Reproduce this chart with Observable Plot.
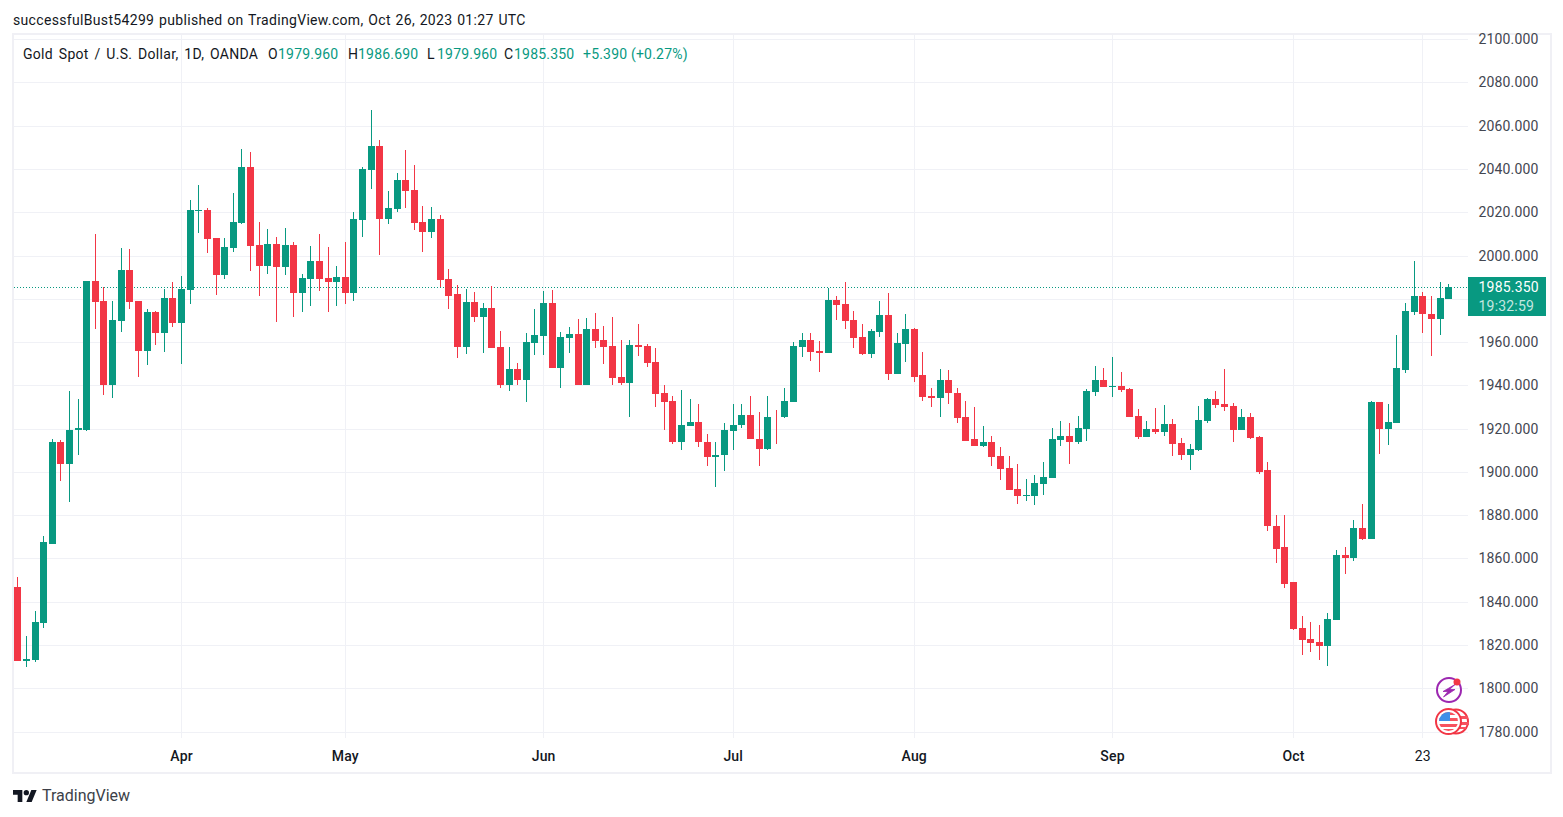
<!DOCTYPE html>
<html><head><meta charset="utf-8">
<script src="https://cdn.jsdelivr.net/npm/d3@7"></script>
<script src="https://cdn.jsdelivr.net/npm/@observablehq/plot@0.6"></script>
<style>
html,body{margin:0;padding:0;background:#fff;width:1563px;height:817px;overflow:hidden}
body{position:relative;font-family:Roboto,sans-serif;font-size:14px;color:#131722}
#chart svg{display:block;position:absolute;left:0;top:0;background:transparent}
.abs{position:absolute;white-space:nowrap;line-height:18px}
#frame{position:absolute;left:12px;top:33px;width:1536px;height:737px;border:2px solid #f0f0f5;pointer-events:none}
#price{position:absolute;left:1468px;top:277px;width:78px;height:39px;background:#089981;color:#fff;font-size:14px}
#price div{position:absolute;left:10.5px;line-height:18px;letter-spacing:.2px}
</style></head><body>
<div id="frame"></div>
<div id="chart"></div>
<div class="abs" style="left:13px;top:10.5px;letter-spacing:.33px;word-spacing:.9px" id="pub"></div>
<div id="legend"></div>
<div id="price"><div id="p1" style="top:1px"></div><div id="p2" style="top:20px;color:#c4e7e0"></div></div>
<svg class="abs" style="left:1434px;top:675px" width="36" height="62" viewBox="0 0 36 62">
  <defs><clipPath id="coin"><circle cx="14.500" cy="46.500" r="9.500"/></clipPath></defs>
  <circle cx="15" cy="15" r="12" fill="none" stroke="#9c27b0" stroke-width="2"/>
  <path d="M21 9.500 L9 16.500 H14 L9.500 22 L21 14.500 H15.500 Z" fill="#9c27b0" stroke="#9c27b0" stroke-width=".8" stroke-linejoin="round"/>
  <circle cx="23" cy="7" r="3.500" fill="#f23645"/>
  <circle cx="22" cy="46.500" r="12" fill="#fff" stroke="#f23645" stroke-width="2"/>
  <path d="M26 41h8v3h-8zM27 47h8v3h-8zM25 52h7v2h-7z" fill="#f7525f"/>
  <circle cx="14.500" cy="46.500" r="12.500" fill="#fff" stroke="#f23645" stroke-width="2"/>
  <g clip-path="url(#coin)">
    <rect x="4" y="36" width="22" height="21" fill="#fff"/>
    <path d="M4 37h22v3H4zM4 43h22v3H4zM4 49h22v3H4zM4 54h22v3H4z" fill="#f7525f"/>
    <rect x="4" y="36" width="12" height="10" fill="#3f8fe8"/>
  </g>
</svg>
<svg class="abs" style="left:13px;top:789px" width="24" height="14" viewBox="0 4 36 18">
  <path fill="#131722" d="M14 22H7V11H0V4h14v18ZM28 22h-8l7.500-18h8L28 22Z"/><circle fill="#131722" cx="20" cy="8" r="4"/>
</svg>
<div class="abs" style="left:42px;top:787px;font-size:16px;color:#3c3f48">TradingView</div>
<script>
const opens=[1847,1812.7,1813.2,1830.3,1866.9,1913.7,1903.5,1919.2,1919.2,1988.3,
1979,1940.2,1969.8,1993.4,1979,1955.9,1974,1964.2,1980.4,1968.9,
1984.3,2020.4,2020.9,2007.9,1990.8,2003.3,2014.9,2040.8,2004.7,1995,
2005.2,1994.5,2004.7,1982.5,1989,1997.3,1989.4,1987.6,1989.9,1982.5,
2016.3,2039.4,2050.5,2016.7,2021.4,2034.8,2030.2,2015.3,2010.7,2016.7,
1989,1982.1,1957.6,1978.4,1971.5,1975.6,1957.6,1940.4,1947.4,1942.7,
1959.4,1962.7,1977.9,1947.8,1961.7,1963.6,1940,1965.9,1960.8,1958,
1943.7,1940.9,1958.5,1958,1950.6,1936.3,1932.6,1913.6,1921,1923.3,
1914,1907.1,1907.6,1919.1,1921.5,1926.1,1915.4,1910.8,1925.6,1925.2,
1932.1,1957.6,1960.8,1955.7,1954.8,1979.3,1977.5,1970.1,1962.2,1954.3,
1964.5,1972.4,1945.1,1959,1965.9,1944.6,1934.9,1934,1942.7,1936.7,
1925.2,1915,1912.2,1914,1907.5,1901.9,1892.2,1889,1889,1894.5,
1897.3,1914.9,1916.7,1914,1920,1937.1,1942.7,1939.4,1939.9,1938.5,
1926,1916.3,1920,1918.6,1922.3,1913.5,1907.9,1910.2,1923.7,1933.9,
1931.5,1930.6,1919.5,1925.5,1916.3,1900.7,1875.2,1865.1,1848.9,1828,
1822.9,1821.5,1819.7,1831.7,1861.4,1860,1874.3,1868.8,1932.5,1920,
1922.8,1947.3,1973.7,1981.1,1973.2,1970.9,1979.96];
const closes=[1812.7,1813.7,1830.8,1867.4,1913.7,1903.5,1919.2,1920.3,1988.3,1978.6,
1940.2,1970.2,1993.4,1978.6,1955.9,1974,1964.2,1980.4,1968.9,1984.6,
2020.9,2020.9,2007.5,1990.8,2003.8,2015.3,2040.8,2004.2,1995,2005.2,
1994.5,2004.7,1982.5,1989.4,1997.3,1989,1987.6,1989.9,1982.5,2016.7,
2039.9,2050.5,2016.7,2021.8,2034.8,2029.7,2014.9,2010.7,2016.7,1988.5,
1981.5,1957.6,1978.4,1971.5,1975.6,1957.1,1940.4,1947.4,1942.7,1959.9,
1963.1,1977.9,1947.8,1962.2,1963.6,1940,1965.9,1960.3,1957.6,1943.2,
1940.9,1958.5,1957.6,1950.2,1935.8,1932.1,1913.6,1921.5,1923.3,1913.6,
1907.1,1908,1919.6,1921.9,1926.1,1915,1910.8,1925.6,1925.2,1932.6,
1958,1960.8,1955.2,1954.8,1979.3,1977,1969.6,1961.7,1954.3,1965,
1972.4,1945.1,1959.4,1965.9,1944.1,1934.4,1934,1942.7,1936.3,1924.7,
1914.5,1912.2,1914,1907.1,1901.5,1891.7,1889,1889.4,1895,1897.7,
1915.3,1916.7,1914,1920.4,1937.6,1942.7,1939.4,1939.9,1938,1925.5,
1916.3,1920,1918.6,1922.3,1913,1907.9,1910.7,1924.1,1933.9,1931.1,
1930.2,1919.5,1925.5,1915.8,1900.1,1874.8,1864.6,1848.4,1827.6,1822.5,
1821.1,1819.7,1832.2,1861.4,1860,1874.3,1868.8,1932.5,1920,1923.2,
1947.8,1974.2,1981.1,1972.8,1970.9,1980.2,1985.35];
const highs=[1851.6,1824.3,1835.9,1870.6,1915,1914.6,1937.4,1933.7,1988.3,2010.1,
1985.4,1979,2003.6,2003.1,1979,1975.3,1974.4,1984.6,1987.8,1990.6,
2025.5,2032.5,2021.8,2007.9,2007.9,2028.8,2049.1,2047.7,2015.3,2012.1,
2008.4,2012.6,2006.1,1991.3,2004.2,2009.8,2003.8,1995.4,2006.5,2020,
2040.8,2067.2,2053.3,2029.7,2038,2048.7,2041.7,2022.7,2022.3,2018.6,
1993.6,1986.3,1984.4,1983,1977.9,1985.8,1965,1957.6,1950.2,1964,
1975.2,1983.5,1984,1964.5,1966.8,1970.5,1971,1973.3,1967.3,1971.5,
1960.8,1960.8,1968.2,1959,1957.1,1940,1935.3,1937.7,1933.5,1931.2,
1917.3,1913.6,1922.8,1931.2,1931.2,1935.3,1927.9,1935.3,1928.4,1938.6,
1959.9,1964,1964,1960.3,1984.9,1981.2,1987.7,1974.2,1968.2,1965.9,
1978.9,1982.6,1964,1972.8,1966.4,1955.2,1939,1947.4,1946.9,1938.6,
1932.6,1930.2,1921,1916.4,1911.6,1907.5,1903.8,1896.8,1898.7,1904.7,
1920.4,1923.7,1922.7,1926,1938.5,1949.1,1948.2,1953.3,1946.4,1939,
1929.2,1923.7,1929.7,1931.1,1924.6,1915.8,1913,1930.6,1934.3,1937.6,
1947.7,1932,1929.2,1927.4,1916.7,1904.4,1879.9,1879.9,1849.3,1833.6,
1830.8,1829.4,1835,1863.7,1865.5,1877.6,1885.4,1933,1932.5,1931.6,
1963.1,1977.9,1997.3,1983,1981.1,1987.6,1986.69];
const lows=[1812.7,1809.7,1812,1828,1866.9,1895.6,1885.9,1907.7,1918.8,1966.1,
1935.5,1934.1,1964.7,1975.3,1943.9,1949.4,1958.7,1955.4,1967,1949.9,
1977.4,2010.2,2001,1982,1989,2001.5,2014.4,1992.7,1981.5,1991.7,
1969.5,1990.8,1971.8,1974.1,1976.5,1983.4,1974.1,1976.5,1977.4,1978.8,
2008.4,2030.6,2000.1,2014.4,2020,2021.8,2011.6,2001.5,2007.9,1985.7,
1975.5,1952.5,1954.3,1969.1,1954.8,1957.1,1939,1937.2,1940.4,1932.1,
1953.9,1953.9,1947.8,1938.6,1954.8,1940,1940,1957.1,1949.7,1940.4,
1940,1925.2,1953.4,1948.3,1930.2,1919.6,1912.7,1910.3,1921,1911.3,
1902.9,1893.2,1900.6,1910.3,1920.1,1915,1902.9,1909.9,1913.1,1924.7,
1932.1,1952.9,1951.1,1946,1954.8,1970.1,1965.9,1957.1,1953.9,1952.5,
1962.2,1942.7,1945.1,1950.6,1941.4,1933,1929.8,1925.2,1931.6,1922.8,
1914.5,1912.2,1911.3,1902.9,1896.4,1891.7,1885.2,1886.6,1884.8,1889.4,
1897.3,1912.1,1903.8,1913,1914.4,1935.2,1939.4,1934.8,1937.1,1925.5,
1915.3,1916.3,1917.7,1916.7,1907.5,1905.6,1901,1909.8,1922.7,1929.7,
1928.3,1914,1919.5,1915.3,1899.1,1872.9,1857.7,1846.5,1827.1,1815.5,
1816.9,1813.2,1810.4,1831.7,1853,1859,1868.3,1868.8,1908.4,1912.6,
1922.8,1945.5,1972.3,1964.4,1953.8,1963.1,1979.96];
const monthTicks=[19,38,61,83,104,127,148];
const monthLabels=["Apr","May","Jun","Jul","Aug","Sep","Oct"];
const dayTicks=[163];
const dayLabels=["23"];
const priceTicks=[1780,1800,1820,1840,1860,1880,1900,1920,1940,1960,1980,2000,2020,2040,2060,2080,2100];
const hiddenPriceLabel=1980; // covered by the last-price tag in the reference
const lastPrice=1985.35;
const lastLabel="1985.350";
const countdown="19:32:59";
const publishedText="successfulBust54299 published on TradingView.com, Oct 26, 2023 01:27 UTC";
const legendParts=[["Gold Spot / U.S. Dollar, 1D, OANDA",23,"#131722"],["O",268,"#131722"],["1979.960",278,"#089981"],["H",348,"#131722"],["1986.690",358,"#089981"],["L",427,"#131722"],["1979.960",437,"#089981"],["C",504,"#131722"],["1985.350",514,"#089981"],["+5.390 (+0.27%)",583,"#089981"]];

const UP="#089981",DOWN="#f23645",GRID="#f0f1f6";
const idx=d3.range(opens.length);
const tone=i=>closes[i]>=opens[i]?UP:DOWN;
const allTicks=[...monthTicks,...dayTicks];
const plot=Plot.plot({
  width:1563,height:817,
  marginLeft:14,marginRight:95,marginTop:35,marginBottom:79,
  style:{fontFamily:"Roboto,sans-serif",fontSize:"14px",background:"transparent",overflow:"visible",letterSpacing:".15px"},
  x:{type:"linear",domain:[-0.383,168.3]},
  y:{type:"linear",domain:[1777.01,2101.95]},
  color:{type:"identity"},
  marks:[
    Plot.gridX(allTicks,{stroke:GRID,strokeOpacity:1,strokeWidth:1,shapeRendering:"crispEdges"}),
    Plot.gridY(priceTicks,{stroke:GRID,strokeOpacity:1,strokeWidth:1,shapeRendering:"crispEdges"}),
    Plot.ruleY([lastPrice],{stroke:UP,strokeWidth:1,strokeDasharray:"1 2",shapeRendering:"crispEdges"}),
    Plot.ruleX(idx,{x:i=>i,y1:i=>lows[i],y2:i=>highs[i],stroke:tone,strokeWidth:1,shapeRendering:"crispEdges"}),
    Plot.ruleX(idx,{x:i=>i,y1:i=>opens[i],y2:i=>closes[i],stroke:tone,strokeWidth:7,shapeRendering:"crispEdges"}),
    Plot.axisY(priceTicks.filter(t=>t!==hiddenPriceLabel),{anchor:"right",tickSize:0,tickPadding:10,tickFormat:d3.format(".3f"),label:null,fill:"#434651"}),
    Plot.axisX(monthTicks,{anchor:"bottom",tickSize:0,tickPadding:13,tickFormat:d=>monthLabels[monthTicks.indexOf(d)],label:null,fill:"#131722",fontWeight:500}),
    Plot.axisX(dayTicks,{anchor:"bottom",tickSize:0,tickPadding:13,tickFormat:d=>dayLabels[dayTicks.indexOf(d)],label:null,fill:"#131722"})
  ]
});
document.getElementById("chart").append(plot);
document.getElementById("pub").textContent=publishedText;
document.getElementById("p1").textContent=lastLabel;
document.getElementById("p2").textContent=countdown;
const leg=document.getElementById("legend");
legendParts.forEach(([t,x,c],k)=>{const s=document.createElement("div");s.className="abs";s.style.left=x+"px";s.style.top="45px";s.style.color=c;s.textContent=t;
  if(k===0){s.style.letterSpacing=".3px";s.style.wordSpacing="2px";}else s.style.letterSpacing=".2px";
  leg.append(s);});
</script>
</body></html>
